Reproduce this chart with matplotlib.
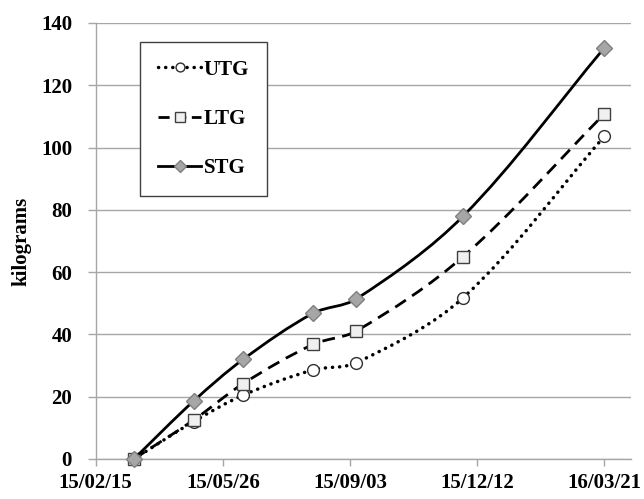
import numpy as np
import matplotlib
matplotlib.use("Agg")
import matplotlib.pyplot as plt
import matplotlib.dates as mdates
from matplotlib.path import Path
from matplotlib.patches import PathPatch
from matplotlib.lines import Line2D
import datetime as dt

# sample dates and weights (kg)
dates = ["2015-03-17", "2015-05-03", "2015-06-11", "2015-08-05",
         "2015-09-08", "2015-12-01", "2016-03-21"]
utg = [0, 12, 20.5, 28.6, 30.9, 51.8, 103.6]
ltg = [0, 12.5, 24.2, 36.8, 41.1, 65.0, 110.8]
stg = [0, 18.6, 32.0, 46.8, 51.4, 78.0, 132.0]
tick_dates = ["2015-02-15", "2015-05-26", "2015-09-03", "2015-12-12", "2016-03-21"]

plt.rcParams['font.family'] = ['Liberation Serif', 'DejaVu Serif']
plt.rcParams['font.weight'] = 'bold'

grid_c = '#a6a6a6'
fs = 15


def smooth_path(ax, x, y):
    # smoothed line: cubic Bezier, tangents scaled by chord length on screen
    p = np.column_stack([x, y])
    q = ax.transData.transform(p)
    n = len(p)
    d = np.hypot(*np.diff(q, axis=0).T)
    verts = [p[0]]
    codes = [Path.MOVETO]
    for i in range(n - 1):
        if i > 0:
            t0 = (p[i + 1] - p[i - 1]) / (d[i - 1] + d[i])
        else:
            t0 = (p[i + 1] - p[i]) / d[i]
        if i + 2 < n:
            t1 = (p[i + 2] - p[i]) / (d[i] + d[i + 1])
        else:
            t1 = (p[i + 1] - p[i]) / d[i]
        c1 = p[i] + t0 * d[i] / 3
        c2 = p[i + 1] - t1 * d[i] / 3
        verts += [c1, c2, p[i + 1]]
        codes += [Path.CURVE4] * 3
    return Path(verts, codes)


x = mdates.date2num([dt.date.fromisoformat(d) for d in dates])
xt = mdates.date2num([dt.date.fromisoformat(d) for d in tick_dates])

fig = plt.figure(figsize=(6.44, 4.99), dpi=100)
ax = fig.add_axes([95.7 / 644, 1 - 459 / 499, (631 - 95.7) / 644, (459 - 23) / 499])
ax.set_xlim(xt[0], xt[0] + 421)
ax.set_ylim(0, 140)

series = [
    ("UTG", utg, dict(linestyle=(0, (0.05, 2.0)), linewidth=2.5, capstyle='round'),
     (0, (0.05, 2.0)),
     dict(marker='o', markersize=8.5, markerfacecolor='white', markeredgecolor='#303030')),
    ("LTG", ltg, dict(linestyle=(0, (4.6, 2.7)), linewidth=2.0, capstyle='butt'),
     (0, (4.0, 2.0)),
     dict(marker='s', markersize=8.8, markerfacecolor='#f0f0f0', markeredgecolor='#404040')),
    ("STG", stg, dict(linestyle='solid', linewidth=2.0, capstyle='butt'),
     'solid',
     dict(marker='D', markersize=8.0, markerfacecolor='#a6a6a6', markeredgecolor='#7f7f7f')),
]

handles = []
for i, (name, vals, ls, leg_ls, mk) in enumerate(series):
    patch = PathPatch(smooth_path(ax, x, vals), fill=False, edgecolor='black',
                      transform=ax.transData, zorder=3 + 2 * i, **ls)
    ax.add_patch(patch)
    ax.plot(x, vals, linestyle='none', markeredgewidth=1.0, zorder=4 + 2 * i,
            clip_on=False, **mk)
    handles.append(Line2D([], [], color='black', linestyle=leg_ls,
                          linewidth=ls['linewidth'],
                          dash_capstyle=ls['capstyle'],
                          marker=mk['marker'], markersize=mk['markersize'] * 0.75,
                          markerfacecolor=mk['markerfacecolor'],
                          markeredgecolor=mk['markeredgecolor'], label=name))

ax.set_xticks(xt)
ax.xaxis.set_major_formatter(mdates.DateFormatter('%y/%m/%d'))
ax.set_yticks(np.arange(0, 141, 20))

ax.grid(axis='y', color=grid_c, linewidth=1.0)
ax.set_axisbelow(True)
for s in ['top', 'right']:
    ax.spines[s].set_visible(False)
for s in ['left', 'bottom']:
    ax.spines[s].set_color(grid_c)
    ax.spines[s].set_linewidth(1.0)

ax.tick_params(axis='y', length=6, width=1.0, color=grid_c, pad=11, labelsize=fs)
ax.tick_params(axis='x', length=5, width=1.0, color=grid_c, pad=5, labelsize=fs)
for lab in ax.get_xticklabels() + ax.get_yticklabels():
    lab.set_fontweight('bold')

ax.set_ylabel('kilograms', fontsize=fs, fontweight='bold', labelpad=7)

leg = fig.legend(handles=handles, loc='upper left',
                 bbox_to_anchor=(140 / 644, 1 - 42 / 499), borderaxespad=0,
                 fontsize=fs, handlelength=2.1, handletextpad=0.1,
                 labelspacing=1.4, borderpad=0.85, fancybox=False,
                 framealpha=1, edgecolor='#404040')
leg.get_frame().set_linewidth(1.0)
for t in leg.get_texts():
    t.set_fontweight('bold')

fig.savefig('out.png', dpi=100)
